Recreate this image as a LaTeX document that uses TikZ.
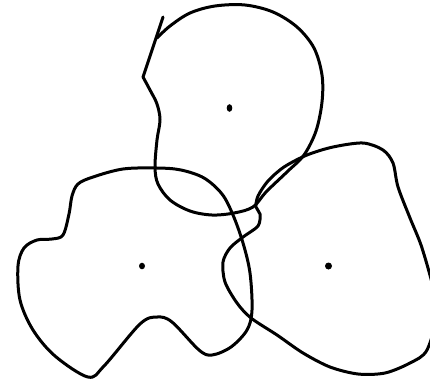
\documentclass[tikz,border=0pt]{standalone}
\begin{document}
\begin{tikzpicture}[x=1pt,y=-1pt,
  curve/.style={line width=3pt,line cap=round,line join=round,black}]
\useasboundingbox (0,0) rectangle (430,383);
\clip (0,0) rectangle (430,383);
% top curve
\coordinate (tailtop) at (163,17);
\coordinate (tailbot) at (143,77);
\draw[curve] (tailtop) -- (tailbot);
\draw[curve] plot[smooth,tension=0.55] coordinates {
 (143,77) (150,90) (157,104) (160,120) (157,140) (155,167) (158,184)
 (170,200) (190,211) (212,215) (234,213) (253,207) (266,192) (288,171)
 (304,155) (316,131) (322,102) (322,75) (314,48) (297,27) (273,12)
 (245,5) (215,6) (190,13) (170,26) (157,38)};
% left blob
\draw[curve] plot[smooth cycle,tension=0.55] coordinates {
 (157,168) (123,169) (93,177) (78,184) (72,196) (69,214) (63,235)
 (52,239) (37,240) (24,248) (18,266) (20,300) (33,330) (55,356)
 (88,377) (104,366) (140,324) (157,317) (172,322) (199,350) (212,355)
 (231,347) (247,330) (252,310) (250,273) (243,243) (233,215) (222,194)
 (204,178) (181,170)};
% right blob
\draw[curve] plot[smooth cycle,tension=0.5] coordinates {
 (260,214) (258,226) (243,237) (230,248) (223,262) (225,282) (237,303)
 (251,318) (277,335) (303,353) (330,367) (358,374) (385,373) (410,363)
 (427,350) (438,310) (431,279) (421,245) (410,218) (398,187) (393,163)
 (383,150) (363,143) (333,147) (307,155) (284,167) (268,181) (258,196)
 (256,207)};
% centres
\fill (229.5,108) ellipse (2.8pt and 3.8pt);
\fill (142,266) ellipse (3pt and 3.3pt);
\fill (328.5,266) ellipse (3.5pt and 3.5pt);
\end{tikzpicture}
\end{document}
